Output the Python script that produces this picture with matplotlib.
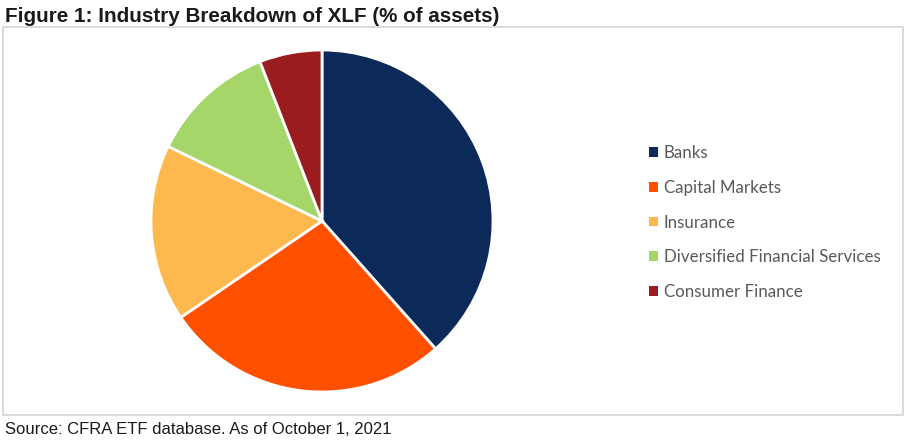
import matplotlib
matplotlib.use("Agg")
import matplotlib.pyplot as plt
from matplotlib.patches import Rectangle

categories = ["Banks", "Capital Markets", "Insurance",
              "Diversified Financial Services", "Consumer Finance"]
shares = [38.4, 27.0, 16.7, 11.9, 5.9]
colors = ["#0B2A5A", "#FF5000", "#FDB94D", "#A6D66A", "#9A1C1F"]

title = "Figure 1: Industry Breakdown of XLF (% of assets)"
source = "Source: CFRA ETF database. As of October 1, 2021"

W, H = 906, 443
fig = plt.figure(figsize=(W / 100, H / 100), dpi=100)
fig.patch.set_facecolor("white")

# border box
fig.add_artist(Rectangle((3 / W, 1 - 415 / H), 900 / W, 388 / H,
                         transform=fig.transFigure, fill=False,
                         edgecolor="#d4d4d4", linewidth=1.2))

cx, cy, r = 322, 221, 171
ax = fig.add_axes([(cx - r) / W, 1 - (cy + r) / H, 2 * r / W, 2 * r / H])
wedges, _ = ax.pie(shares, colors=colors, startangle=90, counterclock=False,
                   wedgeprops=dict(edgecolor="white", linewidth=2))
ax.set_xlim(-1.0, 1.0)
ax.set_ylim(-1.0, 1.0)
ax.set_aspect("equal")
ax.axis("off")

leg = fig.legend(wedges, categories, loc="upper left",
                 bbox_to_anchor=(634 / W, 1 - 130 / H),
                 frameon=False, handlelength=0.5, handleheight=0.5,
                 handletextpad=0.35, labelspacing=1.1,
                 prop=dict(family="Lato", size=12.2), labelcolor="#595959")
for h in leg.legend_handles:
    h.set_edgecolor("none")

fig.text(5 / W, 1 - 16 / H, title, family="Liberation Sans", weight="bold",
         fontsize=14.9, color="#1a1a1a", va="center", ha="left")
fig.text(5 / W, 1 - 430 / H, source, family="Liberation Sans",
         fontsize=12, color="#1a1a1a", va="center", ha="left")

fig.savefig("out.png", dpi=100, facecolor="white")
